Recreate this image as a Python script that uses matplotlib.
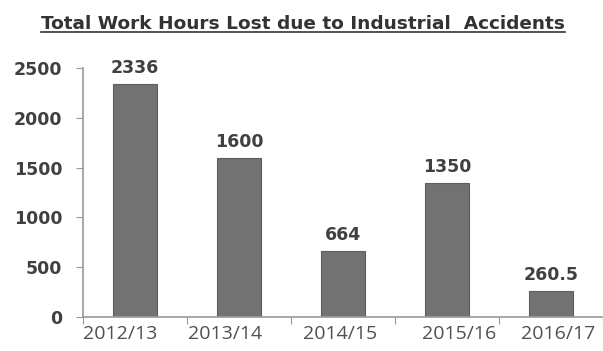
import matplotlib
matplotlib.use("Agg")
import matplotlib.pyplot as plt
from matplotlib.lines import Line2D

years = ["2012/13", "2013/14", "2014/15", "2015/16", "2016/17"]
hours = [2336, 1600, 664, 1350, 260.5]
value_labels = ["2336", "1600", "664", "1350", "260.5"]
yticks = [0, 500, 1000, 1500, 2000, 2500]
# the source image has its year labels slightly off-centre (points)
label_shift = [-11, -10, -2, 9, 5]

fig = plt.figure(figsize=(6.03, 3.51), dpi=100)
ax = fig.add_axes([0.138, 0.097, 0.862, 0.709])

x = list(range(len(years)))
ax.bar(x, hours, width=0.42, color="#727272", edgecolor="#5e5e5e", linewidth=0.8)
for xi, h, lab in zip(x, hours, value_labels):
    ax.annotate(lab, (xi, h), xytext=(0, 5), textcoords="offset points",
                ha="center", va="bottom", fontsize=12.5, fontweight="bold",
                color="#404040")

# year labels drawn by hand so they can sit where the source put them
for xi, yr, dx in zip(x, years, label_shift):
    ax.annotate(yr, (xi, 0), xytext=(dx, -6), textcoords="offset points",
                ha="center", va="top", fontsize=14, color="#505050",
                family="Open Sans", annotation_clip=False)

ax.set_xlim(-0.5, len(years) - 0.5)
ax.set_ylim(0, 2500)
ax.set_yticks(yticks)
ax.set_yticklabels([str(t) for t in yticks], fontsize=12.5, fontweight="bold",
                   color="#404040")
ax.set_xticks([i - 0.5 for i in range(len(years) + 1)])
ax.set_xticklabels([])
ax.tick_params(axis="x", length=5, color="#9a9a9a", direction="out")
ax.tick_params(axis="y", length=5, color="#9a9a9a", pad=10)
for s in ["top", "right"]:
    ax.spines[s].set_visible(False)
for s in ["left", "bottom"]:
    ax.spines[s].set_color("#9a9a9a")
    ax.spines[s].set_linewidth(1.2)

t = fig.text(0.503, 0.932, "Total Work Hours Lost due to Industrial  Accidents",
             ha="center", va="center", fontsize=13.3, fontweight="bold",
             color="#333333")
fig.canvas.draw()
bb = t.get_window_extent(fig.canvas.get_renderer()).transformed(fig.transFigure.inverted())
fig.add_artist(Line2D([bb.x0, bb.x1], [bb.y0 + 0.002, bb.y0 + 0.002],
                      transform=fig.transFigure, color="#333333", lw=1.2))

fig.savefig("out.png", dpi=100)
